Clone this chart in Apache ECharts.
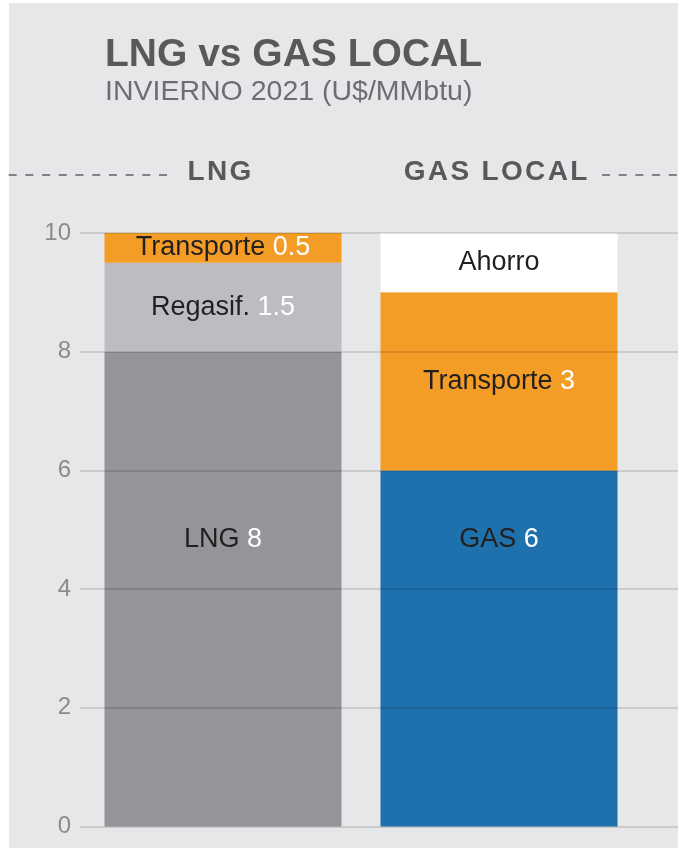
<!DOCTYPE html>
<html>
<head>
<meta charset="utf-8">
<script src="https://cdn.jsdelivr.net/npm/echarts@6/dist/echarts.min.js"></script>
<style>
  html, body { margin: 0; padding: 0; background: #fff; }
  #chart { width: 678px; height: 850px; }
</style>
</head>
<body>
<div id="chart"></div>
<script>
  // columns
  var categories = ['LNG', 'GAS LOCAL']
  // stacked segments, bottom to top
  var baseValues = [8, 6]
  var baseNames = ['LNG', 'GAS']
  var midValues = [1.5, 3]
  var midNames = ['Regasif.', 'Transporte']
  var topValues = [0.5, 1]
  var topNames = ['Transporte', 'Ahorro']
  var topShowValue = [true, false]
  var yTicks = [0, 2, 4, 6, 8, 10]

  var FONT = '"Liberation Sans", Arial, Helvetica, sans-serif'
  var ORANGE = '#f49d26'

  var chart = echarts.init(document.getElementById('chart'), null, {renderer: 'canvas'})

  function segLabel(names, showValue) {
    return function (p) {
      var txt = '{n|' + names[p.dataIndex] + '}'
      if (!showValue || showValue[p.dataIndex]) {
        txt += '{n| }{v|' + p.value + '}'
      }
      return txt
    }
  }

  var labelRich = {
    n: {color: '#231f20', fontSize: 27, fontFamily: FONT},
    v: {color: '#ffffff', fontSize: 27, fontFamily: FONT}
  }

  function segment(name, values, names, colors, label) {
    return {
      name: name,
      type: 'bar',
      stack: 'total',
      xAxisIndex: 1,
      yAxisIndex: 1,
      barWidth: 237,
      data: values,
      itemStyle: {
        color: function (p) { return colors[p.dataIndex] }
      },
      label: Object.assign({
        show: true,
        position: 'inside',
        rich: labelRich
      }, label),
      emphasis: {disabled: true}
    }
  }

  var option = {
    animation: false,
    title: {
      text: 'LNG vs GAS LOCAL',
      subtext: 'INVIERNO 2021 (U$/MMbtu)',
      left: 105,
      top: 36,
      itemGap: 3,
      padding: 0,
      textStyle: {fontSize: 39, fontWeight: 'bold', color: '#58595b', fontFamily: FONT},
      subtextStyle: {fontSize: 28.5, color: '#6d6e71', fontFamily: FONT}
    },
    graphic: [
      {
        type: 'rect', z: -10, silent: true,
        shape: {x: 9, y: 3, width: 669, height: 845},
        style: {fill: '#e6e7e8'}
      },
      {
        type: 'line', silent: true,
        shape: {x1: 167, y1: 175, x2: 0, y2: 175},
        style: {stroke: '#808285', lineWidth: 2, lineDash: [8, 8.7]}
      },
      {
        type: 'line', silent: true,
        shape: {x1: 602, y1: 175, x2: 678, y2: 175},
        style: {stroke: '#808285', lineWidth: 2, lineDash: [8, 8.7]}
      }
    ],
    grid: [
      {left: 80, right: 0, top: 233, bottom: 23.5},
      {left: 85, right: 41, top: 233, bottom: 23.5}
    ],
    xAxis: [
      {gridIndex: 0, type: 'category', data: [''], show: false},
      {
        gridIndex: 1,
        type: 'category',
        position: 'top',
        data: categories,
        axisLine: {show: false},
        axisTick: {show: false},
        axisLabel: {
          margin: 46.4,
          fontSize: 28,
          fontWeight: 'bold',
          color: '#58595b',
          fontFamily: FONT,
          padding: [0, 7, 0, 0],
          formatter: function (v) { return v.split('').join('\u200A') }
        }
      }
    ],
    yAxis: [
      {
        gridIndex: 0,
        type: 'value',
        min: 0,
        max: 10,
        interval: 2,
        z: 10,
        axisLine: {show: false},
        axisTick: {show: false},
        axisLabel: {
          margin: 9,
          fontSize: 24,
          color: '#8a8b8d',
          fontFamily: FONT,
          formatter: function (v) { return yTicks.indexOf(v) >= 0 ? String(v) : '' }
        },
        splitLine: {lineStyle: {color: 'rgba(0,0,0,0.12)', width: 2}}
      },
      {gridIndex: 1, type: 'value', min: 0, max: 10, show: false}
    ],
    series: [
      segment('base', baseValues, baseNames, ['#939598', '#1f71ad'],
        {position: 'insideBottom', distance: 273.5, formatter: segLabel(baseNames)}),
      segment('mid', midValues, midNames, ['#bcbdc0', ORANGE],
        {formatter: segLabel(midNames)}),
      segment('top', topValues, topNames, [ORANGE, '#ffffff'],
        {formatter: segLabel(topNames, topShowValue)})
    ]
  }

  chart.setOption(option)
</script>
</body>
</html>
